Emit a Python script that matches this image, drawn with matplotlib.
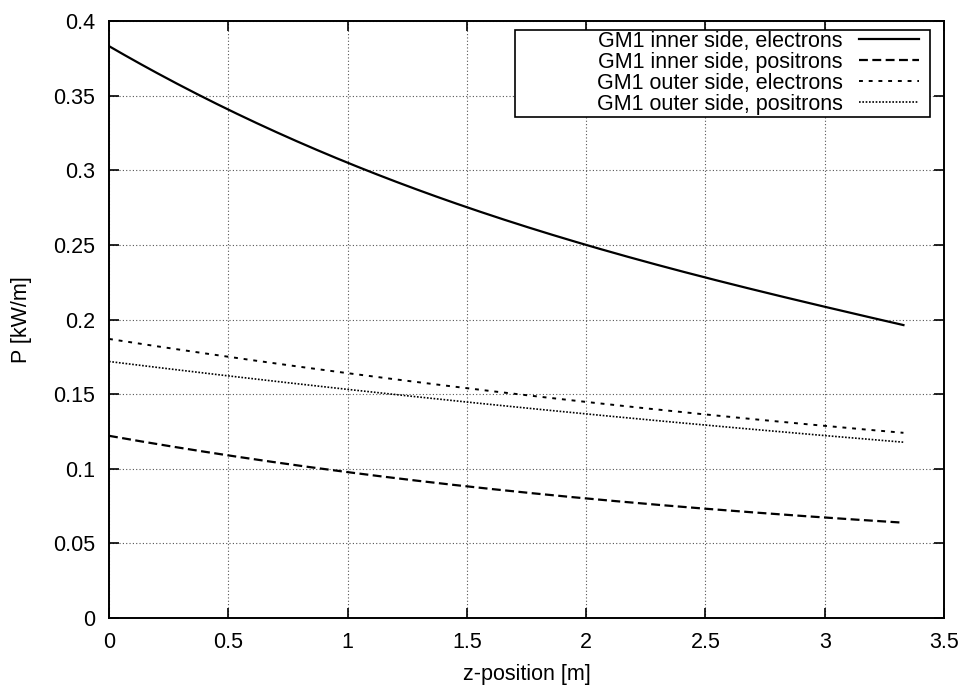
import matplotlib
matplotlib.use("Agg")
import matplotlib.pyplot as plt
from matplotlib.patches import Rectangle
import numpy as np

plt.rcParams['font.family'] = ['Liberation Sans', 'DejaVu Sans']

z = [0.0, 0.5, 1.0, 1.5, 2.0, 2.5, 3.0, 3.33]
inner_electrons = [0.383, 0.341, 0.305, 0.275, 0.250, 0.228, 0.209, 0.196]
inner_positrons = [0.122, 0.109, 0.098, 0.088, 0.080, 0.073, 0.068, 0.0635]
outer_electrons = [0.187, 0.175, 0.164, 0.154, 0.145, 0.136, 0.129, 0.124]
outer_positrons = [0.172, 0.162, 0.153, 0.145, 0.137, 0.129, 0.122, 0.118]
labels = ["GM1 inner side, electrons", "GM1 inner side, positrons",
          "GM1 outer side, electrons", "GM1 outer side, positrons"]

W, H = 961, 686
FS = 15.5
fig = plt.figure(figsize=(W/100, H/100), dpi=100)
ax = fig.add_axes([109/W, 68/H, (944-109)/W, (618-21)/H])

zf = np.linspace(z[0], z[-1], 200)
def smooth(y):
    c = np.polyfit(z, y, 3)
    return np.polyval(c, zf)

ax.plot(zf, smooth(inner_electrons), color='black', lw=1.6, ls='-', label=labels[0])
ax.plot(zf, smooth(inner_positrons), color='black', lw=1.6, ls=(0, (4, 2)), label=labels[1])
ax.plot(zf, smooth(outer_electrons), color='black', lw=1.4, ls=(0, (2, 3)), label=labels[2])
ax.plot(zf, smooth(outer_positrons), color='black', lw=1.2, ls=(0, (1, 1)), label=labels[3])

ax.set_xlim(0, 3.5)
ax.set_ylim(0, 0.4)
ax.set_xticks(np.arange(0, 3.51, 0.5))
ax.set_yticks(np.arange(0, 0.401, 0.05))
ax.set_xticklabels(['0', '0.5', '1', '1.5', '2', '2.5', '3', '3.5'])
ax.set_yticklabels(['0', '0.05', '0.1', '0.15', '0.2', '0.25', '0.3', '0.35', '0.4'])
ax.tick_params(direction='in', top=True, right=True, length=7, width=1.2, labelsize=FS, pad=10)
ax.grid(True, color='#555555', ls=(0, (1, 2)), lw=0.8)
for s in ax.spines.values():
    s.set_linewidth(1.4)
ax.set_xlabel('z-position [m]', fontsize=FS, labelpad=8)
ax.set_ylabel('P [kW/m]', fontsize=FS, labelpad=15)

# legend frame (gnuplot style wide box)
ax.add_patch(Rectangle((515/W, 1 - 117/H), (930-515)/W, (117-30)/H,
                       transform=fig.transFigure, fill=True, facecolor='white',
                       edgecolor='black', lw=1.2, zorder=4.5, clip_on=False))
leg = ax.legend(loc='upper right', bbox_to_anchor=(919/W, 1 - 31/H), bbox_transform=fig.transFigure,
                markerfirst=False, fontsize=FS, frameon=False,
                handlelength=2.8, borderpad=0.0, labelspacing=0.0, handletextpad=0.75,
                borderaxespad=0)
leg.set_zorder(6)

fig.savefig('out.png', dpi=100)
